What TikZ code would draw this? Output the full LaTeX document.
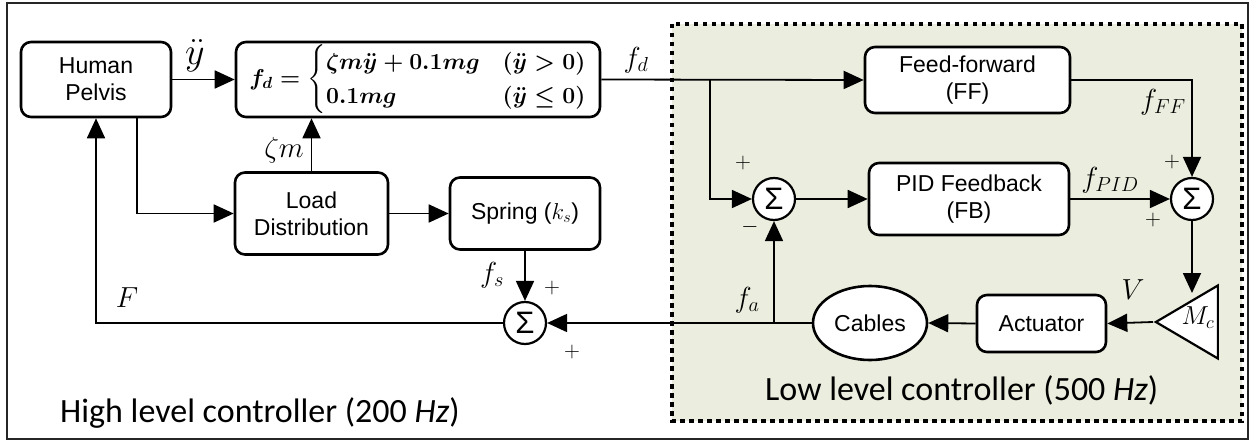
\RequirePackage{fix-cm}
\documentclass[tikz,border=0pt]{standalone}
\usepackage{amsmath,amssymb}
\usepackage{fontspec}
\setmainfont{Liberation Sans}
\newfontfamily\calib{Carlito}
\usetikzlibrary{arrows.meta,shapes.geometric}
\definecolor{lowbg}{RGB}{235,238,222}
\begin{document}
\begin{tikzpicture}[x=1pt,y=-1pt,
  blk/.style={draw, line width=2.6pt, rounded corners=10pt, inner sep=0pt, align=center, font=\fontsize{23}{27}\selectfont},
  sumc/.style={draw, circle, line width=2.2pt, minimum size=42pt, inner sep=0pt, font=\fontsize{31}{31}\selectfont, fill=white},
  arr/.style={line width=1.8pt, -{Triangle[length=20pt,width=18pt]}},
  lbl/.style={font=\fontsize{29}{29}\selectfont, inner sep=0pt},
  sgn/.style={font=\fontsize{22}{22}\selectfont, inner sep=0pt},
  ttl/.style={font=\calib\fontsize{34}{34}\selectfont, inner sep=0pt, anchor=base west},
]
\useasboundingbox (0,0) rectangle (1253,441);
\draw[line width=1.5pt, black!85] (7,3) rectangle (1248,439);
\fill[lowbg] (672,24) rectangle (1242,421);
\draw[line width=4pt, dash pattern=on 4.5pt off 4.5pt] (672,24) rectangle (1242,421);

% blocks
\node[blk, minimum width=150pt, minimum height=75pt] (hp) at (96,79.5) {Human\\Pelvis};
\node[blk, minimum width=364pt, minimum height=75pt, font=\mathversion{bold}\fontsize{23}{28}\selectfont] (fd) at (418,79.5)
  {$f_d=\begin{cases}\zeta m\ddot{y}+0.1mg & (\ddot{y}>0)\\ 0.1mg & (\ddot{y}\le 0)\end{cases}$};
\node[blk, minimum width=153pt, minimum height=82pt] (load) at (311.5,213.5) {Load\\Distribution};
\node[blk, minimum width=150pt, minimum height=72pt] (spr) at (525,213.5) {Spring ($k_s$)};
\node[blk, minimum width=205pt, minimum height=66pt, fill=white] (ff) at (967.5,80) {Feed-forward\\(FF)};
\node[blk, minimum width=200pt, minimum height=72pt, fill=white] (pid) at (969,199) {PID Feedback\\(FB)};
\node[blk, minimum width=129pt, minimum height=57pt, fill=white] (act) at (1041.5,323.5) {Actuator};
\node[draw, ellipse, line width=2.6pt, minimum width=114pt, minimum height=74pt, inner sep=0pt, fill=white, font=\fontsize{23}{27}\selectfont] (cab) at (870,323) {Cables};
\node[draw, isosceles triangle, isosceles triangle stretches, shape border rotate=180, line width=2.2pt, minimum width=73pt, minimum height=62pt, inner sep=0pt, fill=white, anchor=apex] (mc) at (1153,322) {};
\node[lbl, font=\fontsize{26}{26}\selectfont] (mclbl) at (1198,318) {$M_c$};

% summing junctions
\node[sumc] (s1) at (525,323) {Σ};
\node[sumc] (s2) at (774,199) {Σ};
\node[sumc] (s3) at (1192,199) {Σ};

\coordinate (j1) at (710,79.5);
\coordinate (j2) at (774,323);
\coordinate (mcin) at (1192,293);

% connectors
\draw[arr] (hp.east) -- (fd.west);
\draw[arr] ([xshift=41pt]hp.south) |- (load.west);
\draw[arr] (load.north) -- (load.north |- fd.south);
\draw[arr] (load.east) -- (spr.west);
\draw[arr] (spr.south) -- (s1.north);
\draw[arr] (s1.west) -| (hp.south);
\draw[arr] (fd.east) -- (ff.west);
\draw[arr] (j1) |- (s2.west);
\draw[arr] (s2.east) -- (pid.west);
\draw[arr] (pid.east) -- (s3.west);
\draw[arr] (ff.east) -| (s3.north);
\draw[arr] (s3.south) -- (mcin);
\draw[arr] (mc.apex) -- (act.east);
\draw[arr] (act.west) -- (cab.east);
\draw[arr] (cab.west) -- (s1.east);
\draw[arr] (j2) -- (s2.south);

% labels
\node[lbl, font=\fontsize{38}{38}\selectfont] (lydd) at (195,56) {$\ddot{y}$};
\node[lbl] (lzm) at (284,150) {$\zeta m$};
\node[lbl] (lfd) at (636,60) {$f_d$};
\node[lbl] (lfff) at (1163,102) {$f_{FF}$};
\node[lbl] (lfpid) at (1110,180) {$f_{PID}$};
\node[lbl] (lv) at (1133,290) {$V$};
\node[lbl] (lfa) at (747,300) {$f_a$};
\node[lbl] (lfs) at (492,275) {$f_s$};
\node[lbl] (lF) at (127,298) {$F$};
\node[sgn] (p1) at (743,163) {$+$};
\node[sgn] (m1) at (750,227) {$-$};
\node[sgn] (p2) at (1172,162) {$+$};
\node[sgn] (p3) at (1153,220) {$+$};
\node[sgn] (p4) at (552,288) {$+$};
\node[sgn] (p5) at (572,352) {$+$};

\node[ttl] (hl) at (60,422) {High level controller (200 \textit{Hz})};
\node[ttl] (ll) at (765,400) {Low level controller (500 \textit{Hz})};
\end{tikzpicture}
\end{document}
